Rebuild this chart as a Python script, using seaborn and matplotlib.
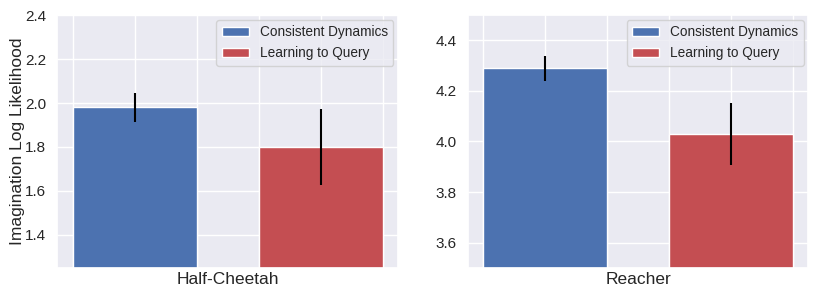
import matplotlib
matplotlib.use("Agg")
import matplotlib.pyplot as plt
import seaborn as sns

sns.set_theme(style="darkgrid")
plt.rcParams['font.family'] = ['Liberation Sans', 'DejaVu Sans']

methods = ["Consistent Dynamics", "Learning to Query"]
envs = ["Half-Cheetah", "Reacher"]
means = {"Half-Cheetah": [1.98, 1.80], "Reacher": [4.29, 4.03]}
errs = {"Half-Cheetah": [0.067, 0.175], "Reacher": [0.05, 0.123]}
ylims = {"Half-Cheetah": (1.25, 2.4), "Reacher": (3.5, 4.5)}
yticks = {"Half-Cheetah": [1.4, 1.6, 1.8, 2.0, 2.2, 2.4],
          "Reacher": [3.6, 3.8, 4.0, 4.2, 4.4]}

pal = sns.color_palette("deep")
colors = [pal[0], pal[3]]
pos = [0.0, 0.6]

fig, axes = plt.subplots(1, 2, figsize=(8.3, 2.96), dpi=100)
fig.subplots_adjust(left=0.069, right=0.974, top=0.949, bottom=0.095, wspace=0.204)

for ax, env in zip(axes, envs):
    for p, m, e, c, lab in zip(pos, means[env], errs[env], colors, methods):
        ax.bar(p, m, width=0.4, color=c, label=lab)
        ax.errorbar(p, m, yerr=e, color="black", linewidth=1.5, capsize=0)
    ax.set_ylim(*ylims[env])
    ax.set_yticks(yticks[env])
    ax.set_xticks([-0.2, 0.0, 0.2, 0.4, 0.6, 0.8])
    ax.set_xticklabels([])
    ax.tick_params(axis="x", length=0, pad=0)
    ax.tick_params(axis="y", labelsize=11, pad=2)
    ax.set_xlabel(env, fontsize=12.5, labelpad=3)
    ax.legend(loc="upper right", fontsize=9.8, borderaxespad=0.35)

axes[0].set_ylabel("Imagination Log Likelihood", fontsize=12.5, labelpad=0)

fig.savefig("out.png", dpi=100)
